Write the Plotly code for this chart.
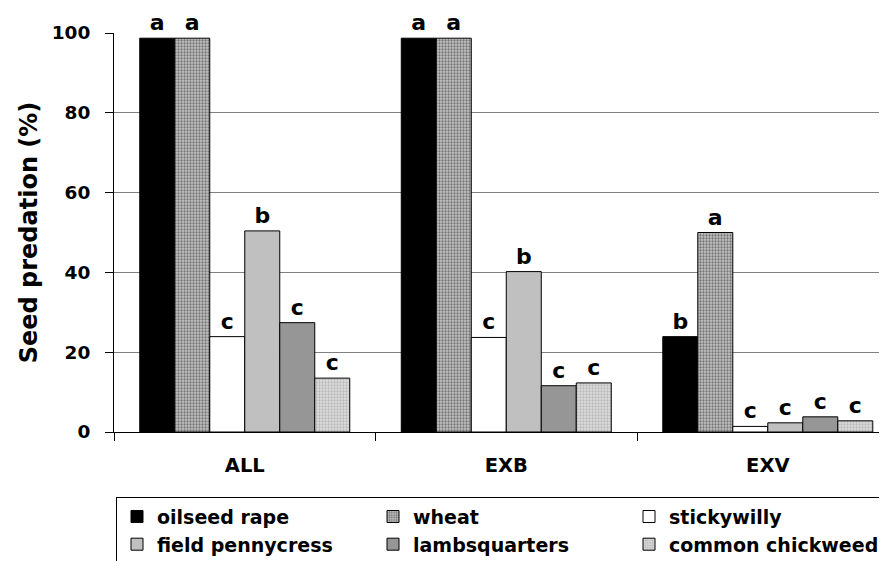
import plotly.graph_objects as go

groups = ["ALL", "EXB", "EXV"]
species = ["oilseed rape", "wheat", "stickywilly", "field pennycress", "lambsquarters", "common chickweed"]

oilseed_rape = [98.7, 98.7, 23.9]
wheat = [98.7, 98.7, 50.0]
stickywilly = [23.9, 23.7, 1.4]
field_pennycress = [50.4, 40.2, 2.3]
lambsquarters = [27.4, 11.6, 3.8]
common_chickweed = [13.5, 12.3, 2.8]

letters_oilseed_rape = ["a", "a", "b"]
letters_wheat = ["a", "a", "a"]
letters_stickywilly = ["c", "c", "c"]
letters_field_pennycress = ["b", "b", "c"]
letters_lambsquarters = ["c", "c", "c"]
letters_common_chickweed = ["c", "c", "c"]

y_ticks = [0, 20, 40, 60, 80, 100]

series = [oilseed_rape, wheat, stickywilly, field_pennycress, lambsquarters, common_chickweed]
letters = [letters_oilseed_rape, letters_wheat, letters_stickywilly,
           letters_field_pennycress, letters_lambsquarters, letters_common_chickweed]

styles = [
    dict(color="#000000"),
    dict(color="#a8a8a8", pattern=dict(shape=".", bgcolor="#c4c4c4", fgcolor="#747474", size=3, solidity=0.45, fillmode="replace")),
    dict(color="#ffffff"),
    dict(color="#c0c0c0"),
    dict(color="#969696"),
    dict(color="#d0d0d0", pattern=dict(shape=".", bgcolor="#dedede", fgcolor="#b8b8b8", size=3, solidity=0.45, fillmode="replace")),
]

FONT = "DejaVu Sans, Arial, sans-serif"

fig = go.Figure()
for name, vals, lets, st in zip(species, series, letters, styles):
    marker = dict(color=st["color"], line=dict(color="#000000", width=1))
    if "pattern" in st:
        marker["pattern"] = st["pattern"]
    fig.add_trace(go.Bar(
        x=groups, y=vals, name=name, marker=marker,
        text=lets, textposition="outside", cliponaxis=False,
        textfont=dict(family=FONT, size=22, color="#000000", weight="bold"),
    ))

fig.update_layout(
    width=887, height=561,
    margin=dict(l=106, r=9, t=25, b=137, autoexpand=False),
    paper_bgcolor="#ffffff", plot_bgcolor="#ffffff",
    barmode="group", bargap=0.197, bargroupgap=0,
    font=dict(family=FONT, size=19, color="#000000", weight="bold"),
    showlegend=True,
    legend=dict(
        orientation="h", xanchor="right", x=1.0, yanchor="top", y=-0.162,
        bordercolor="#000000", borderwidth=1, bgcolor="#ffffff",
        font=dict(family=FONT, size=19, color="#000000", weight="bold"),
        entrywidth=211, entrywidthmode="pixels", traceorder="normal",
    ),
    xaxis=dict(
        type="category", range=[-0.5, 2.452], tickson="boundaries",
        ticks="outside", ticklen=8, tickcolor="#000000",
        showline=True, linecolor="#000000", linewidth=1,
        showgrid=False, automargin=False, ticklabelstandoff=16,
        tickfont=dict(family=FONT, size=19.5, color="#000000", weight="bold"),
    ),
    yaxis=dict(
        range=[0, 100], tickvals=y_ticks, ticks="outside", ticklen=8,
        tickcolor="#000000", showline=True, linecolor="#000000", linewidth=1,
        showgrid=True, gridcolor="#808080", gridwidth=1, zeroline=False,
        automargin=False, ticklabelstandoff=11,
        tickfont=dict(family=FONT, size=18.5, color="#000000", weight="bold"),
        title=dict(text="Seed predation (%)", standoff=7,
                   font=dict(family=FONT, size=24, color="#000000", weight="bold")),
    ),
)

fig.write_html("out.html")
